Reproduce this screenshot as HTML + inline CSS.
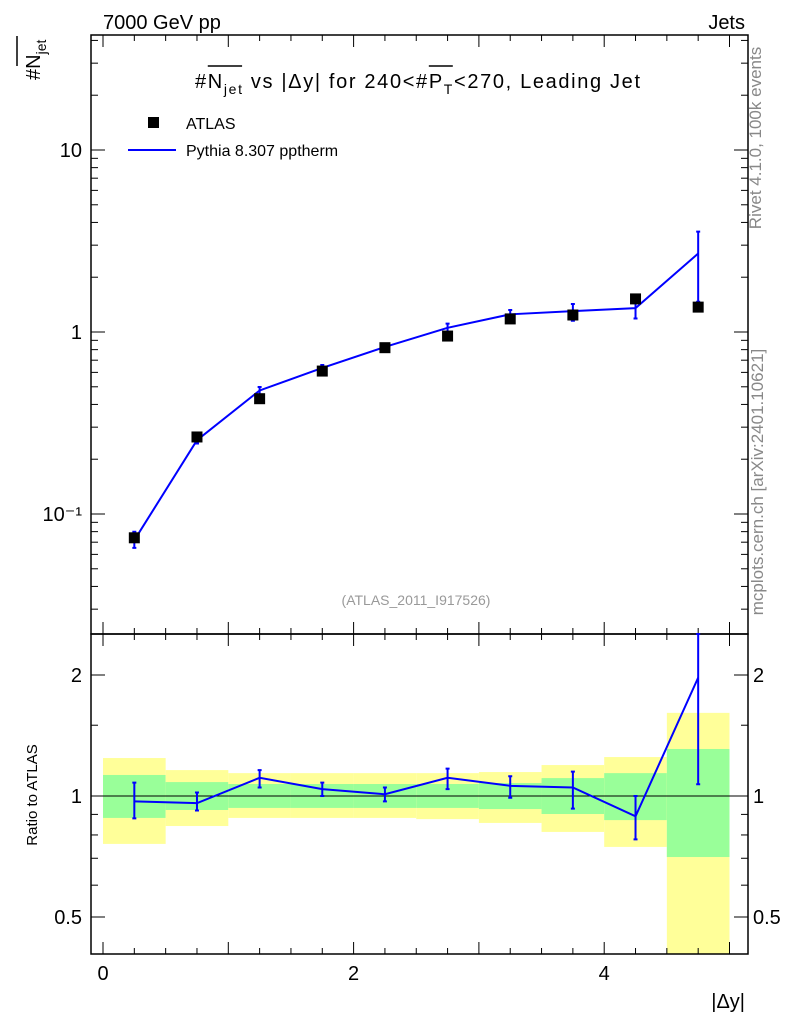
<!DOCTYPE html>
<html><head><meta charset="utf-8"><style>
html,body{margin:0;padding:0;background:#fff;}
svg text{font-family:"Liberation Sans",sans-serif;}
</style></head><body>
<svg id="c" width="786" height="1024" xmlns="http://www.w3.org/2000/svg">
<g id="bands"></g>
<g id="axes"></g>
<g id="marks"></g>
<text x="103" y="29" font-size="20">7000 GeV pp</text>
<text x="745" y="29" font-size="20" text-anchor="end">Jets</text>
<text id="title" x="195" y="88" font-size="20" textLength="445" lengthAdjust="spacing">#<tspan id="tN">N</tspan><tspan id="tjet" font-size="14" dy="6">jet</tspan><tspan dy="-6"> vs |Δy| for 240&lt;#</tspan><tspan id="tP">P</tspan><tspan id="tT" font-size="14" dy="6">T</tspan><tspan dy="-6">&lt;270, Leading Jet</tspan></text>
<line id="ol1" x1="212" y1="66" x2="243" y2="66" stroke="#000" stroke-width="1.5"/>
<line id="ol2" x1="422" y1="66" x2="448" y2="66" stroke="#000" stroke-width="1.5"/>
<rect x="148" y="117" width="11" height="11" fill="#000"/>
<text x="186" y="129" font-size="16">ATLAS</text>
<line x1="128" y1="150" x2="176" y2="150" stroke="#0000ff" stroke-width="2"/>
<text x="186" y="156" font-size="16">Pythia 8.307 pptherm</text>
<text x="416" y="605" font-size="14" fill="#999" text-anchor="middle">(ATLAS_2011_I917526)</text>
<text transform="translate(761,138) rotate(-90)" font-size="17" fill="#888" text-anchor="middle">Rivet 4.1.0,  100k events</text>
<text transform="translate(763,482) rotate(-90)" font-size="17" fill="#888" text-anchor="middle">mcplots.cern.ch [arXiv:2401.10621]</text>
<text transform="translate(40,80) rotate(-90)" font-size="20">#N<tspan font-size="14" dy="6">jet</tspan></text>
<line x1="17" y1="66" x2="17" y2="36" stroke="#000" stroke-width="1.5"/>
<text transform="translate(37,795) rotate(-90)" font-size="15" text-anchor="middle">Ratio to ATLAS</text>
<text x="745" y="1008" font-size="20" text-anchor="end">|Δy|</text>
</svg>
<script>
const xCenters=[0.25,0.75,1.25,1.75,2.25,2.75,3.25,3.75,4.25,4.75];
const dataVals=[0.074,0.265,0.43,0.61,0.82,0.95,1.18,1.24,1.52,1.37];
const ratioVals=[0.97,0.96,1.11,1.04,1.01,1.11,1.06,1.05,0.89,1.97];
const ratioLo=[0.88,0.92,1.05,1.0,0.97,1.04,0.99,0.93,0.78,1.07];
const ratioHi=[1.08,1.02,1.16,1.08,1.05,1.17,1.12,1.15,1.0,2.6];
const yelHi=[1.243,1.16,1.14,1.14,1.14,1.14,1.147,1.194,1.25,1.61];
const yelLo=[0.76,0.842,0.882,0.882,0.882,0.876,0.857,0.814,0.747,0.38];
const grnHi=[1.128,1.083,1.071,1.071,1.071,1.071,1.077,1.108,1.14,1.309];
const grnLo=[0.882,0.923,0.934,0.934,0.934,0.934,0.928,0.902,0.871,0.705];
const xTickLabels=[0,2,4];
const yTickLabels=[["10",10],["1",1],["10⁻¹",0.1]];
const rTickLabels=[["2",2],["1",1],["0.5",0.5]];

const L=91,R=748,T=35,MB=634,RB=954;
const X=v=>103+v*125.3;
const Y=v=>332-Math.log10(v)*182;
const RY=v=>796-Math.log2(v)*121;
const NS="http://www.w3.org/2000/svg";
function mk(p,tag,a){const e=document.createElementNS(NS,tag);for(const k in a)e.setAttribute(k,a[k]);document.getElementById(p).appendChild(e);return e;}
const clampR=v=>Math.min(Math.max(RY(v),MB),RB);
for(let i=0;i<xCenters.length;i++){
 const x0=X(xCenters[i]-0.25),x1=X(xCenters[i]+0.25);
 let e=mk('bands','rect',{x:x0,y:clampR(yelHi[i]),width:x1-x0,height:clampR(yelLo[i])-clampR(yelHi[i]),fill:'#ffff99'});
 
 
 e=mk('bands','rect',{x:x0,y:clampR(grnHi[i]),width:x1-x0,height:clampR(grnLo[i])-clampR(grnHi[i]),fill:'#99ff99'});
 
 
}
mk('axes','rect',{x:L,y:T,width:R-L,height:MB-T,fill:'none',stroke:'#000','stroke-width':1.5});
mk('axes','rect',{x:L,y:MB,width:R-L,height:RB-MB,fill:'none',stroke:'#000','stroke-width':1.5});
mk('axes','line',{x1:L,x2:R,y1:RY(1),y2:RY(1),stroke:'#000','stroke-width':1});
for(let v=0;v<=5.001;v+=0.25){
 const major=Math.abs(v-Math.round(v))<1e-6, len=major?12:6;
 for(const [top,bot] of [[T,MB],[MB,RB]]){
  mk('axes','line',{x1:X(v),x2:X(v),y1:bot,y2:bot-len,stroke:'#000'});
  mk('axes','line',{x1:X(v),x2:X(v),y1:top,y2:top+len,stroke:'#000'});
 }
}
xTickLabels.forEach(v=>{const t=mk('axes','text',{x:X(v),y:980,'font-size':20,'text-anchor':'middle'});t.textContent=v;
 
 });
for(let d=-2;d<=1;d++)for(let m=1;m<10;m++){const v=m*Math.pow(10,d),y=Y(v);if(y<T||y>MB)continue;const len=m==1?14:7;
 mk('axes','line',{x1:L,x2:L+len,y1:y,y2:y,stroke:'#000'});mk('axes','line',{x1:R,x2:R-len,y1:y,y2:y,stroke:'#000'});}
yTickLabels.forEach(([s,v])=>{const t=mk('axes','text',{x:82,y:Y(v)+7,'font-size':20,'text-anchor':'end'});t.textContent=s;
 
 });
[0.5,0.6,0.7,0.8,0.9,1,1.5,2].forEach(v=>{const y=RY(v),len=(v==0.5||v==1||v==2)?14:7;
 mk('axes','line',{x1:L,x2:L+len,y1:y,y2:y,stroke:'#000'});mk('axes','line',{x1:R,x2:R-len,y1:y,y2:y,stroke:'#000'});});
rTickLabels.forEach(([s,v])=>{for(const [x,a] of [[82,'end'],[753,'start']]){const t=mk('axes','text',{x:x,y:RY(v)+7,'font-size':20,'text-anchor':a});t.textContent=s;
 
 }});
function errbar(x,y1,y2,name){
 const e=mk('marks','path',{d:`M${x},${y1}V${y2}M${x-2},${y1}H${x+2}M${x-2},${y2}H${x+2}`,stroke:'#0000ff','stroke-width':2,fill:'none'});
 
 
}
const mc=dataVals.map((d,i)=>d*ratioVals[i]);
let pts=xCenters.map((x,i)=>X(x)+','+Y(mc[i])).join(' ');
let pl=mk('marks','polyline',{points:pts,fill:'none',stroke:'#0000ff','stroke-width':2});


xCenters.forEach((x,i)=>errbar(X(x),Y(dataVals[i]*ratioLo[i]),Y(dataVals[i]*Math.min(ratioHi[i],2.8)),'pythia-error'));
xCenters.forEach((x,i)=>{const r=mk('marks','rect',{x:X(x)-5.5,y:Y(dataVals[i])-5.5,width:11,height:11,fill:'#000'});
 
 });
pts=xCenters.map((x,i)=>X(x)+','+clampR(ratioVals[i])).join(' ');
pl=mk('marks','polyline',{points:pts,fill:'none',stroke:'#0000ff','stroke-width':2});


xCenters.forEach((x,i)=>errbar(X(x),clampR(ratioLo[i]),clampR(ratioHi[i]),'ratio-error'));
// position title overlines from measured glyphs
try{
 const t=document.getElementById('title');
 const bb=id=>document.getElementById(id).getBBox();
 const n=bb('tN'),j=bb('tjet'),p=bb('tP'),tt=bb('tT');
 const o1=document.getElementById('ol1'),o2=document.getElementById('ol2');
 o1.setAttribute('x1',n.x);o1.setAttribute('x2',j.x+j.width);
 o2.setAttribute('x1',p.x);o2.setAttribute('x2',tt.x+tt.width);
}catch(e){}
</script>
</body></html>
